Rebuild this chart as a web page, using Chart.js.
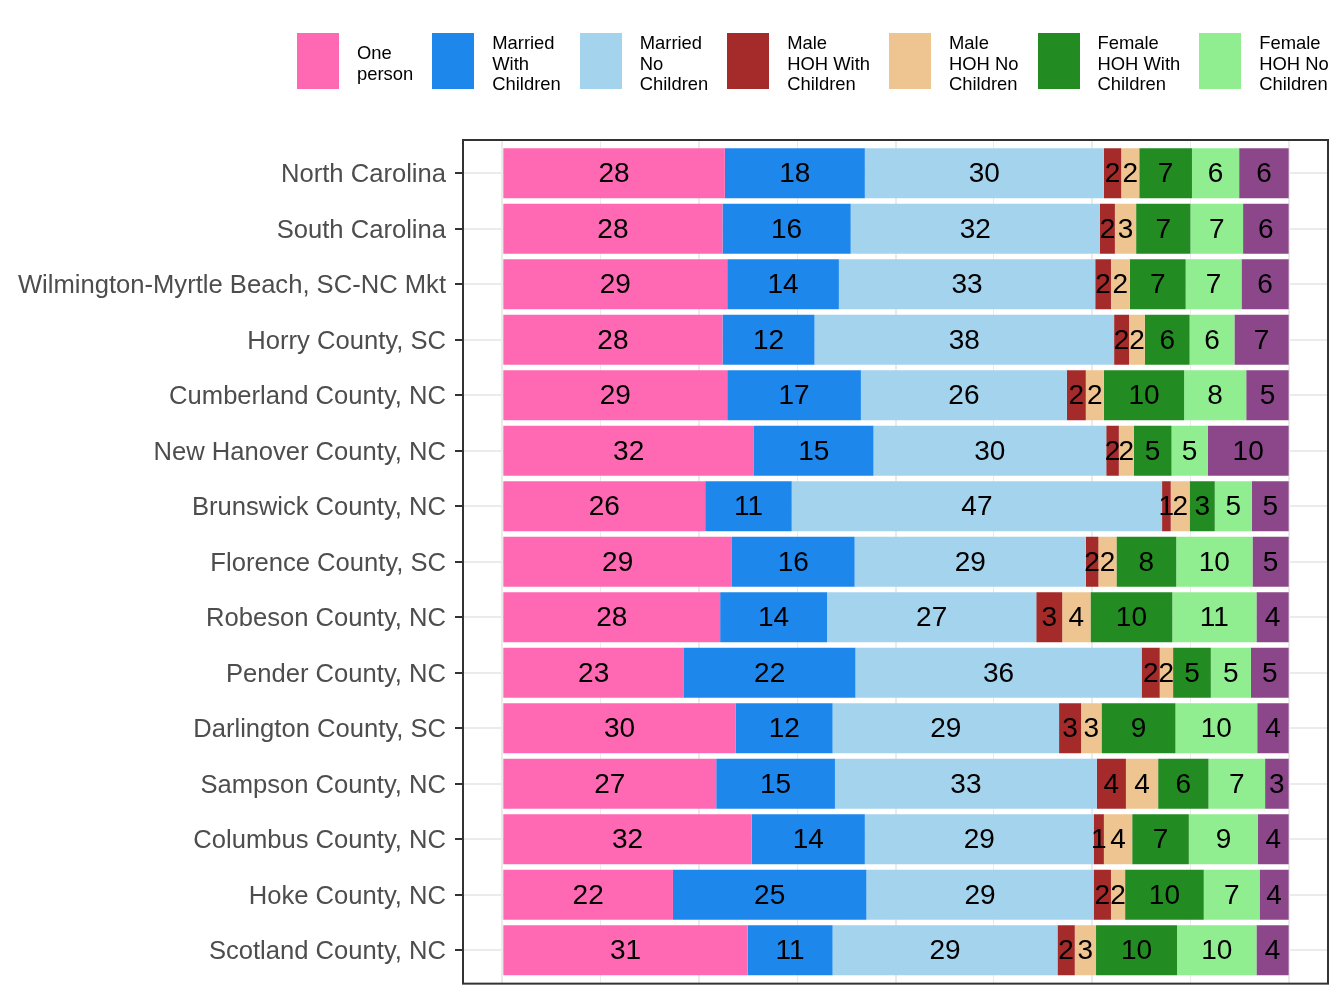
<!DOCTYPE html>
<html>
<head>
<meta charset="utf-8">
<script src="https://cdn.jsdelivr.net/npm/chart.js@4"></script>
<style>
  html, body { margin: 0; padding: 0; background: #fff; overflow: hidden; }
  body { width: 1344px; height: 1008px; position: relative; font-family: "Liberation Sans", Arial, sans-serif; }
  #wrap { position: absolute; left: 0; top: 0; width: 1344px; height: 1008px; }
  .legend { position: absolute; left: 297px; top: 33px; display: flex; align-items: center; white-space: nowrap; }
  .legend .item { display: flex; align-items: center; margin-right: 19px; }
  .legend .sw { width: 42px; height: 56px; margin-right: 18px; flex: none; position: relative; top: -3px; }
  .legend .txt { font-size: 18.4px; line-height: 20.5px; color: #000; }
</style>
</head>
<body>
<div id="wrap"><canvas id="c"></canvas></div>
<div class="legend" id="legend"></div>
<script>
/* Household type share by area: 100% stacked horizontal bars, rounded % labels. */
const areas = ["North Carolina", "South Carolina", "Wilmington-Myrtle Beach, SC-NC Mkt",
  "Horry County, SC", "Cumberland County, NC", "New Hanover County, NC", "Brunswick County, NC",
  "Florence County, SC", "Robeson County, NC", "Pender County, NC", "Darlington County, SC",
  "Sampson County, NC", "Columbus County, NC", "Hoke County, NC", "Scotland County, NC"];

// percent of households, one value per area (top to bottom)
const onePerson    = [28.3, 28.0, 28.6, 28.0, 28.6, 32.0, 25.8, 29.2, 27.7, 23.1, 29.7, 27.2, 31.7, 21.7, 31.2];
const marriedWith  = [17.8, 16.3, 14.2, 11.7, 17.0, 15.2, 11.0, 15.6, 13.6, 21.8, 12.3, 15.1, 14.4, 24.6, 10.8];
const marriedNo    = [30.4, 31.7, 32.6, 38.1, 26.2, 29.6, 47.1, 29.4, 26.6, 36.4, 28.8, 33.3, 29.1, 28.9, 28.6];
const maleWith     = [2.2, 1.9, 2.0, 1.9, 2.4, 1.6, 1.1, 1.6, 3.3, 2.3, 2.8, 3.7, 1.3, 2.2, 2.2];
const maleNo       = [2.3, 2.7, 2.4, 2.0, 2.3, 1.9, 2.4, 2.3, 3.6, 1.7, 2.6, 4.1, 3.6, 1.8, 2.7];
const femaleWith   = [6.7, 6.9, 7.1, 5.7, 10.2, 4.8, 3.2, 7.6, 10.4, 4.8, 9.4, 6.4, 7.2, 10.0, 10.3];
const femaleNo     = [6.0, 6.7, 7.1, 5.7, 7.9, 4.6, 4.7, 9.7, 10.7, 5.1, 10.4, 7.2, 8.8, 7.1, 10.1];
const other        = [6.3, 5.8, 6.0, 6.9, 5.4, 10.3, 4.7, 4.6, 4.1, 4.8, 4.0, 3.0, 3.9, 3.7, 4.1];

const seriesNames  = ["One person", "Married With Children", "Married No Children", "Male HOH With Children",
  "Male HOH No Children", "Female HOH With Children", "Female HOH No Children", "Other"];
const legendLines  = [["One", "person"], ["Married", "With", "Children"], ["Married", "No", "Children"],
  ["Male", "HOH With", "Children"], ["Male", "HOH No", "Children"], ["Female", "HOH With", "Children"],
  ["Female", "HOH No", "Children"]];
const seriesColors = ["#FF69B4", "#1E87EC", "#A4D3EE", "#A52A2A", "#EEC591", "#228B22", "#90EE90", "#8B4789"];
const seriesValues = [onePerson, marriedWith, marriedNo, maleWith, maleNo, femaleWith, femaleNo, other];

// x grid: major every 25%, minor halfway between
const xMajor = [0, 25, 50, 75, 100];
const xMinor = [12.5, 37.5, 62.5, 87.5];

const FONT = '"Liberation Sans", Arial, sans-serif';

// legend (ggplot-style wrapped labels; the 8th key falls off the page in the original)
document.getElementById("legend").innerHTML = legendLines.map((lines, i) =>
  `<div class="item"><div class="sw" style="background:${seriesColors[i]}"></div>` +
  `<div class="txt">${lines.join("<br>")}</div></div>`).join("");

const segLabels = {
  id: "segLabels",
  afterDatasetsDraw(chart) {
    const ctx = chart.ctx;
    ctx.save();
    ctx.font = `28px ${FONT}`;
    ctx.fillStyle = "#000";
    ctx.textAlign = "center";
    ctx.textBaseline = "middle";
    chart.data.datasets.forEach((ds, di) => {
      chart.getDatasetMeta(di).data.forEach((el, i) => {
        const p = el.getProps(["x", "y", "base"], true);
        ctx.fillText(String(Math.round(seriesValues[di][i])), (p.x + p.base) / 2, p.y + 1);
      });
    });
    ctx.restore();
  },
};

const panelBorder = {
  id: "panelBorder",
  afterDraw(chart) {
    const a = chart.chartArea, ctx = chart.ctx;
    ctx.save();
    ctx.strokeStyle = "#333333";
    ctx.lineWidth = 2;
    ctx.strokeRect(a.left, a.top, a.right - a.left, a.bottom - a.top);
    ctx.restore();
  },
};

new Chart(document.getElementById("c"), {
  type: "bar",
  data: {
    datasets: seriesValues.map((vals, k) => ({
      label: seriesNames[k],
      data: vals.map((v, i) => ({ x: v, y: i })),
      backgroundColor: seriesColors[k],
      borderWidth: 0,
      categoryPercentage: 1,
      barPercentage: 0.9,
    })),
  },
  options: {
    indexAxis: "y",
    responsive: true, maintainAspectRatio: false, animation: false,
    layout: { padding: { top: 140, right: 16, bottom: 23, left: 0 } },
    plugins: { legend: { display: false }, tooltip: { enabled: false } },
    scales: {
      x: {
        type: "linear", stacked: true, min: -5, max: 105, offset: false,
        afterBuildTicks: s => { s.ticks = xMajor.concat(xMinor).map(v => ({ value: v })); },
        afterFit: s => { s.height = 0; },
        ticks: { display: false },
        border: { display: false },
        grid: { color: "#EBEBEB", drawTicks: false, offset: false,
          lineWidth: c => (c.tick && xMajor.includes(c.tick.value) ? 2 : 1) },
      },
      y: {
        type: "linear", stacked: true, reverse: true, min: -0.6, max: areas.length - 0.4, offset: false,
        afterBuildTicks: s => { s.ticks = areas.map((_, i) => ({ value: i })); },
        afterFit: s => { s.width = 463; },
        ticks: { autoSkip: false, padding: 9, labelOffset: 2, color: "#4D4D4D",
          font: { family: FONT, size: 25.6 }, callback: v => areas[v] },
        border: { display: false },
        grid: { color: "#EBEBEB", lineWidth: 2, drawTicks: true, tickLength: 8, offset: false,
          tickColor: "#333333", tickWidth: 2 },
      },
    },
  },
  plugins: [segLabels, panelBorder],
});
</script>
</body>
</html>
